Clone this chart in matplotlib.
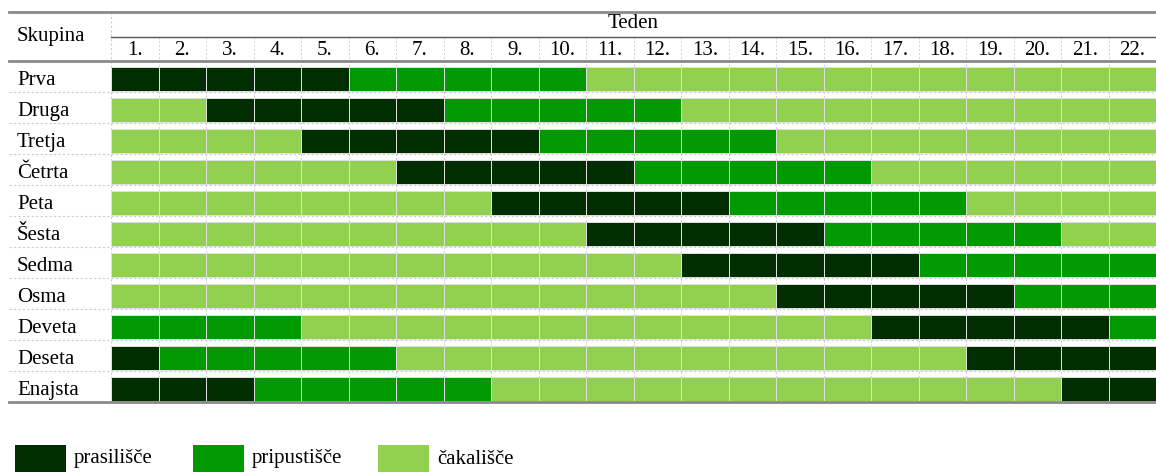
import matplotlib.pyplot as plt
from matplotlib.patches import Rectangle

plt.rcParams['font.family'] = ['Liberation Serif', 'DejaVu Serif']

groups = ["Prva", "Druga", "Tretja", "Četrta", "Peta", "Šesta",
          "Sedma", "Osma", "Deveta", "Deseta", "Enajsta"]
weeks = [f"{i}." for i in range(1, 23)]

# P = prasilišče, R = pripustišče, C = čakališče, one letter per week
schedule = [
    "PPPPPRRRRRCCCCCCCCCCCC",
    "CCPPPPPRRRRRCCCCCCCCCC",
    "CCCCPPPPPRRRRRCCCCCCCC",
    "CCCCCCPPPPPRRRRRCCCCCC",
    "CCCCCCCCPPPPPRRRRRCCCC",
    "CCCCCCCCCCPPPPPRRRRRCC",
    "CCCCCCCCCCCCPPPPPRRRRR",
    "CCCCCCCCCCCCCCPPPPPRRR",
    "RRRRCCCCCCCCCCCCPPPPPR",
    "PRRRRRCCCCCCCCCCCCPPPP",
    "PPPRRRRRCCCCCCCCCCCCPP",
]
states = ["P", "R", "C"]
state_labels = ["prasilišče", "pripustišče", "čakališče"]
state_colors = {"P": "#002e00", "R": "#009900", "C": "#92d050"}

FS = 15
W, H = 1156, 472
fig = plt.figure(figsize=(W / 100, H / 100), dpi=100)

# grid area in pixels: x 111..1156, y 61..402
x0, x1, y0, y1 = 111, 1156, 61, 402
ax = fig.add_axes([x0 / W, 1 - y1 / H, (x1 - x0) / W, (y1 - y0) / H])
n = len(groups)
ax.set_xlim(0, len(weeks))
ax.set_ylim(n, 0)
ax.axis("off")
px_x = (x1 - x0) / len(weeks)
px_y = (y1 - y0) / n

for r, row in enumerate(schedule):
    for c, s in enumerate(row):
        ax.add_patch(Rectangle((c, r + 0.19), 1, 0.78, facecolor=state_colors[s],
                               edgecolor="#e0e0e0", linewidth=0.7))
    ax.text(-(x0 - 17) / px_x, r + 0.64, groups[r], ha="left", va="center",
            fontsize=FS, clip_on=False)
    if r < n - 1:
        ax.plot([-(x0 - 9) / px_x, len(weeks)], [r + 1, r + 1], color="#cccccc",
                lw=0.8, ls=(0, (2, 2)), clip_on=False)

# column separators (dotted)
for c in range(1, len(weeks)):
    ax.plot([c, c], [-24 / px_y, n], color="#d0d0d0", lw=0.7, ls=(0, (2, 2)),
            clip_on=False, zorder=0)
ax.plot([0, 0], [-49 / px_y, n], color="#cccccc", lw=0.8, ls=(0, (2, 2)),
        clip_on=False, zorder=0)

# week header
for c, w in enumerate(weeks):
    ax.text(c + 0.5, -10.5 / px_y, w, ha="center", va="center", fontsize=FS,
            clip_on=False)
ax.text(len(weeks) / 2, -37 / px_y, "Teden", ha="center", va="center",
        fontsize=FS, clip_on=False)
ax.text(-(x0 - 17) / px_x, -24 / px_y, "Skupina", ha="left", va="center",
        fontsize=FS, clip_on=False)

# horizontal rules
left = -(x0 - 9) / px_x
ax.plot([left, len(weeks)], [-49 / px_y] * 2, color="#8a8a8a", lw=2, clip_on=False)
ax.plot([0, len(weeks)], [-24 / px_y] * 2, color="#555555", lw=1, clip_on=False)
ax.plot([left, len(weeks)], [0, 0], color="#8a8a8a", lw=2, clip_on=False)
ax.plot([left, len(weeks)], [n, n], color="#8a8a8a", lw=2, clip_on=False)

# legend
leg_x = [15, 193, 378]
for i, s in enumerate(states):
    fig.add_artist(Rectangle((leg_x[i] / W, 0), 51 / W, 27 / H,
                             transform=fig.transFigure,
                             facecolor=state_colors[s], edgecolor="none"))
    fig.text((leg_x[i] + 59) / W, 1 - 459 / H, state_labels[i], ha="left",
             va="center", fontsize=FS)

fig.savefig("out.png", dpi=100)
